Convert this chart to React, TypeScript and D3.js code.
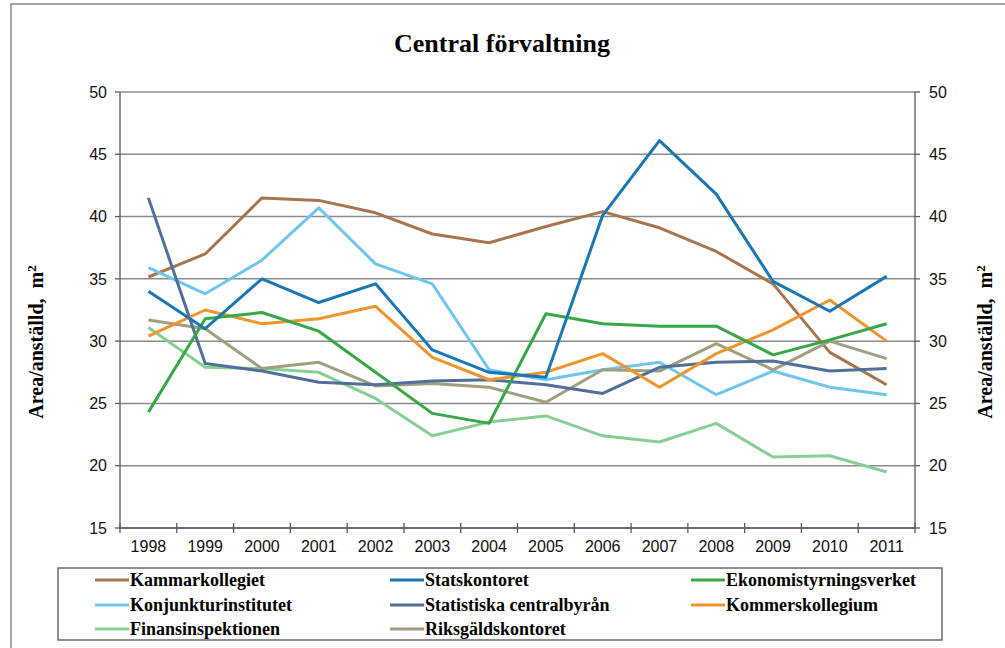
import React from "react";
import * as d3 from "d3";

const years = ["1998","1999","2000","2001","2002","2003","2004","2005","2006","2007","2008","2009","2010","2011"];
const yTicks = [15, 20, 25, 30, 35, 40, 45, 50];

const kammarkollegiet = [35.15, 37.0, 41.5, 41.3, 40.3, 38.6, 37.9, 39.2, 40.4, 39.1, 37.2, 34.6, 29.1, 26.5];
const statskontoret = [34.0, 31.0, 35.0, 33.1, 34.6, 29.3, 27.5, 27.1, 40.1, 46.1, 41.8, 34.8, 32.4, 35.2];
const ekonomistyrningsverket = [24.3, 31.8, 32.3, 30.8, 27.5, 24.2, 23.4, 32.2, 31.4, 31.2, 31.2, 28.9, 30.1, 31.4];
const konjunkturinstitutet = [35.9, 33.8, 36.5, 40.7, 36.2, 34.6, 27.7, 26.9, 27.7, 28.3, 25.7, 27.6, 26.3, 25.7];
const statistiskaCentralbyran = [41.5, 28.2, 27.6, 26.7, 26.5, 26.8, 26.9, 26.5, 25.8, 27.9, 28.3, 28.4, 27.6, 27.8];
const kommerskollegium = [30.4, 32.5, 31.4, 31.8, 32.8, 28.7, 26.9, 27.5, 29.0, 26.3, 29.0, 30.9, 33.3, 30.0];
const finansinspektionen = [31.1, 27.9, 27.8, 27.5, 25.4, 22.4, 23.5, 24.0, 22.4, 21.9, 23.4, 20.7, 20.8, 19.5];
const riksgaldskontoret = [31.7, 31.0, 27.8, 28.3, 26.4, 26.6, 26.3, 25.1, 27.7, 27.6, 29.8, 27.7, 30.0, 28.6];

const seriesNames = [
  "Kammarkollegiet", "Statskontoret", "Ekonomistyrningsverket",
  "Konjunkturinstitutet", "Statistiska centralbyrån", "Kommerskollegium",
  "Finansinspektionen", "Riksgäldskontoret",
];
const seriesValues = [
  kammarkollegiet, statskontoret, ekonomistyrningsverket,
  konjunkturinstitutet, statistiskaCentralbyran, kommerskollegium,
  finansinspektionen, riksgaldskontoret,
];
const seriesColors = [
  "#A8754F", "#1B76B4", "#37A845",
  "#70C6F0", "#50709B", "#F0952B",
  "#88CF94", "#A19F80",
];
// draw order (legend order differs from z-order slightly)
const drawOrder = [0, 3, 6, 7, 4, 5, 2, 1];

const W = 1005, H = 648;
const L = 120, R = 915, T = 92, B = 528;

export default function App() {
  const x = d3.scaleBand<string>().domain(years).range([L, R]);
  const y = d3.scaleLinear().domain([15, 50]).range([B, T]);
  const cx = (yr: string) => (x(yr) as number) + x.bandwidth() / 2;
  const line = d3.line<number>().x((_, i) => cx(years[i])).y((v) => y(v));

  const boundaries = d3.range(years.length + 1).map((k) => L + k * x.bandwidth());
  const serif = "'Liberation Serif', 'Times New Roman', serif";
  const sans = "'Liberation Sans', Arial, sans-serif";

  const legX = [95, 390, 691];
  const legY = [580, 605, 629];

  return (
    <svg width={W} height={H} style={{ position: "absolute", left: 0, top: 0, background: "#fff" }}>
      <rect x={0} y={0} width={W} height={H} fill="#fff" />
      <rect x={11} y={4} width={1100} height={800} fill="none" stroke="#8a8a8a" strokeWidth={1.5} />
      <text x={502} y={52} textAnchor="middle" fontFamily={serif} fontWeight="bold" fontSize={26} fill="#000">
        Central förvaltning
      </text>

      {/* grid */}
      {yTicks.map((t) => (
        <line key={"g" + t} x1={L} x2={R} y1={y(t)} y2={y(t)} stroke="#8c8c8c" strokeWidth={1.5} />
      ))}
      {/* axes */}
      <line x1={L} x2={L} y1={T} y2={B} stroke="#5a5a5a" strokeWidth={1.3} />
      <line x1={R} x2={R} y1={T} y2={B} stroke="#5a5a5a" strokeWidth={1.3} />
      <line x1={L} x2={R} y1={B} y2={B} stroke="#5a5a5a" strokeWidth={1.3} />
      {yTicks.map((t) => (
        <g key={"t" + t}>
          <line x1={L - 5} x2={L} y1={y(t)} y2={y(t)} stroke="#5a5a5a" strokeWidth={1.3} />
          <line x1={R} x2={R + 5} y1={y(t)} y2={y(t)} stroke="#5a5a5a" strokeWidth={1.3} />
          <text x={107} y={y(t)} dy="0.36em" textAnchor="end" fontFamily={sans} fontSize={16} fill="#111">{t}</text>
          <text x={929} y={y(t)} dy="0.36em" textAnchor="start" fontFamily={sans} fontSize={16} fill="#111">{t}</text>
        </g>
      ))}
      {boundaries.map((bx, k) => (
        <line key={"b" + k} x1={bx} x2={bx} y1={B - 5} y2={B + 5} stroke="#5a5a5a" strokeWidth={1.3} />
      ))}
      {years.map((yr) => (
        <text key={yr} x={cx(yr)} y={552} textAnchor="middle" fontFamily={sans} fontSize={16} fill="#111">{yr}</text>
      ))}

      {/* axis titles */}
      <text transform="translate(43,342) rotate(-90)" textAnchor="middle" fontFamily={serif} fontWeight="bold" fontSize={20} fill="#000">
        Area/anställd,{"\u00a0\u00a0"}m<tspan dy={-7} fontSize={13}>2</tspan>
      </text>
      <text transform="translate(992,342) rotate(-90)" textAnchor="middle" fontFamily={serif} fontWeight="bold" fontSize={20} fill="#000">
        Area/anställd,{"\u00a0\u00a0"}m<tspan dy={-7} fontSize={13}>2</tspan>
      </text>

      {/* lines */}
      {drawOrder.map((i) => (
        <path key={"s" + i} d={line(seriesValues[i]) as string} fill="none" stroke={seriesColors[i]} strokeWidth={3} strokeLinejoin="round" />
      ))}

      {/* legend */}
      <rect x={58} y={568} width={884} height={72} fill="#fff" stroke="#6a6a6a" strokeWidth={1.5} />
      {seriesNames.map((name, i) => {
        const col = i % 3;
        const row = Math.floor(i / 3);
        const lx = legX[col];
        const ly = legY[row];
        return (
          <g key={name}>
            <line x1={lx} x2={lx + 34} y1={ly} y2={ly} stroke={seriesColors[i]} strokeWidth={3} />
            <text x={lx + 35} y={ly} dy="0.33em" fontFamily={serif} fontWeight="bold" fontSize={18} fill="#000">{name}</text>
          </g>
        );
      })}
    </svg>
  );
}
